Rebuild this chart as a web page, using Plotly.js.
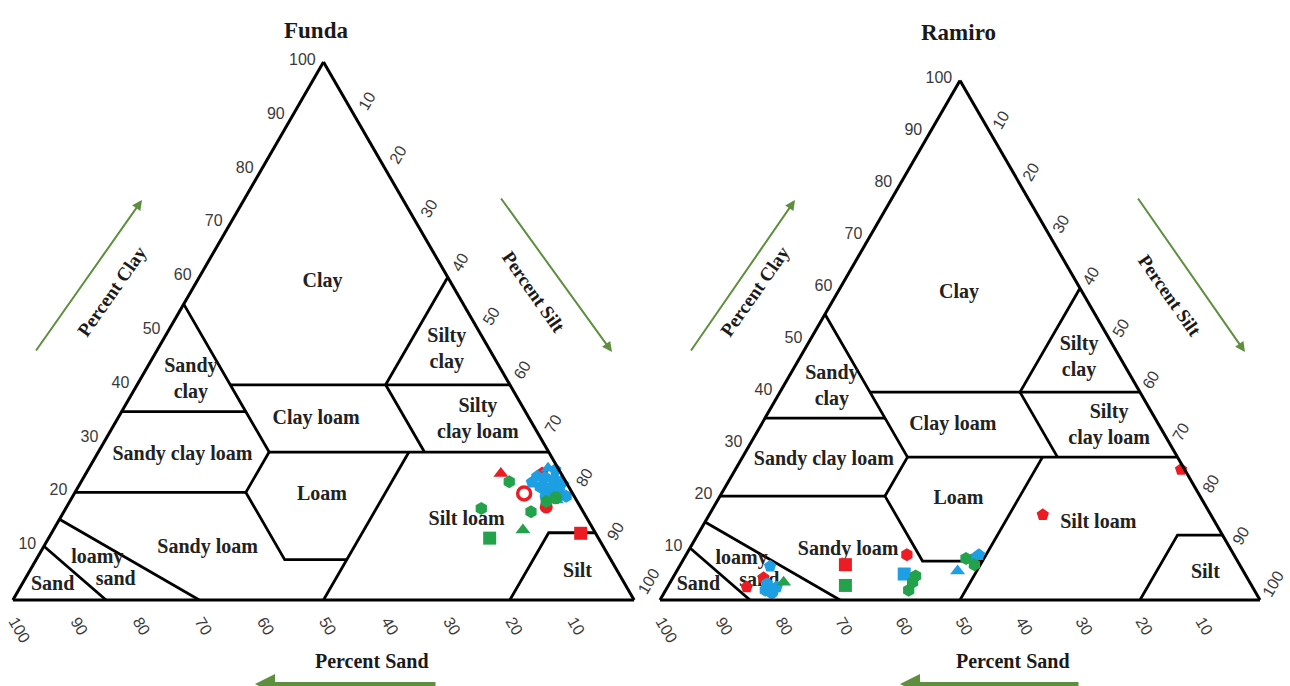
<!DOCTYPE html>
<html><head><meta charset="utf-8">
<script src="https://cdn.plot.ly/plotly-3.0.1.min.js"></script>
<style>html,body{margin:0;padding:0;background:#fff}#chart{width:1290px;height:686px}</style>
</head><body><div id="chart"></div>
<script>
// ---------- data ----------
const tickValues = [10, 20, 30, 40, 50, 60, 70, 80, 90, 100];

// USDA texture-class boundaries (clay, sand, silt); null = break
const boundaryClay = [55,35,27.5,null, 40,40,null, 40,60,null, 35,35,null, 27.5,27.5,null, 40,27.5,null, 27.5,20,7.5,7.5,null, 20,20,null, 27.5,0,null, 15,0,null, 10,0,null, 0,12.5,12.5];
const boundarySand = [45,45,45,null, 45,0,null, 20,0,null, 65,45,null, 45,0,null, 20,20,null, 45,52.5,52.5,42.5,null, 80,52.5,null, 22.5,50,null, 85,70,null, 90,85,null, 20,7.5,0];
const boundarySilt = [0,20,27.5,null, 15,60,null, 40,40,null, 0,20,null, 27.5,72.5,null, 40,52.5,null, 27.5,27.5,40,50,null, 0,27.5,null, 50,50,null, 0,30,null, 0,15,null, 80,80,87.5];

// texture-class labels
const classNames = ['Clay', 'Silty<br>clay', 'Sandy<br>clay', 'Clay loam', 'Silty<br>clay loam', 'Sandy clay loam', 'Loam', 'Silt loam', 'Sandy loam', 'loamy', 'sand', 'Sand', 'Silt'];
const classClay = [59.1, 46.5, 40.9, 33.6, 33.5, 27.0, 19.5, 14.9, 9.7, 7.8, 3.7, 2.8, 5.2];
const classSand = [20.6, 6.9, 50.9, 34.4, 8.4, 59.2, 40.5, 19.5, 63.8, 82.5, 81.6, 92.2, 6.5];
const classSilt = [20.3, 46.6, 8.2, 32.0, 58.1, 13.8, 40.0, 65.6, 26.5, 9.7, 14.7, 5.0, 88.3];

// Funda samples
const fundaSeries = ['S1','S1','S1','S1','S1',
  'S2','S2','S2','S2','S2','S2','S2','S2','S2','S2','S2','S2','S2',
  'S3','S3','S3','S3','S3','S3','S3'];
const fundaShape = ['triangle-up','circle-open','pentagon','circle','square',
  'triangle-up','pentagon','pentagon','hexagon','circle','diamond','hexagon','square','pentagon','hexagon','circle','triangle-up','pentagon',
  'hexagon','hexagon','circle','hexagon','hexagon','triangle-up','square'];
const fundaClay = [23.5, 19.8, 23.6, 17.3, 12.4,
  24.5, 24.2, 23.0, 22.7, 22.3, 21.7, 21.0, 20.6, 20.3, 19.3, 19.3, 18.6, 21.9,
  22.0, 18.3, 19.0, 16.4, 17.0, 13.0, 11.5];
const fundaSand = [9.7, 7.8, 3.0, 5.5, 2.4,
  1.6, 0.6, 4.1, 3.0, 1.7, 0.9, 4.6, 3.2, 1.9, 1.3, 4.5, 3.2, 5.5,
  9.1, 5.0, 3.1, 8.4, 16.1, 11.4, 17.5];
const fundaSilt = [66.8, 72.4, 73.4, 77.2, 85.2,
  73.9, 75.2, 72.9, 74.3, 76.0, 77.4, 74.4, 76.2, 77.8, 79.4, 76.2, 78.2, 72.6,
  68.9, 76.7, 77.9, 75.2, 66.9, 75.6, 71.0];

// Ramiro samples
const ramiroSeries = ['S1','S1','S1','S1','S1','S1',
  'S2','S2','S2','S2','S2','S2','S2','S2','S2',
  'S3','S3','S3','S3','S3','S3','S3'];
const ramiroShape = ['pentagon','pentagon','square','hexagon','pentagon','pentagon',
  'pentagon','hexagon','circle','pentagon','hexagon','square','triangle-up','pentagon','hexagon',
  'triangle-up','square','hexagon','hexagon','hexagon','hexagon','hexagon'];
const ramiroClay = [2.5, 4.3, 6.8, 8.7, 16.4, 25.1,
  6.5, 1.9, 1.5, 2.5, 3.1, 5.0, 5.6, 8.7, 7.8,
  3.4, 2.8, 3.4, 1.9, 4.6, 8.0, 6.8];
const ramiroSand = [84.3, 80.6, 65.7, 54.5, 28.0, 0.6,
  78.4, 81.5, 80.6, 79.3, 80.6, 56.8, 47.6, 42.5, 44.0,
  77.7, 67.7, 56.2, 57.6, 55.1, 45.0, 44.2];
const ramiroSilt = [13.2, 15.1, 27.5, 36.8, 55.6, 74.3,
  15.1, 16.6, 17.9, 18.2, 16.3, 38.2, 46.8, 48.8, 48.2,
  18.9, 29.5, 40.4, 40.5, 40.3, 47.0, 49.0];

// ---------- style ----------
const seriesColor = {S1: '#ec1c24', S2: '#1e9ee3', S3: '#23a24b'};
const seriesOrder = ['S1', 'S2', 'S3'];
const serif = 'Liberation Serif, Times New Roman, serif';
const sans = 'Liberation Sans, Arial, sans-serif';
const arrowGreen = '#5e8f3e';

function classTraces(subplot) {
  return [
    {type: 'scatterternary', subplot, mode: 'lines', a: boundaryClay, b: boundarySand, c: boundarySilt,
     line: {color: '#000', width: 2.8}, hoverinfo: 'skip', showlegend: false, cliponaxis: false},
    {type: 'scatterternary', subplot, mode: 'text', a: classClay, b: classSand, c: classSilt,
     text: classNames, textposition: 'middle center',
     textfont: {family: serif, size: 20, color: '#222', weight: 'bold'},
     hoverinfo: 'skip', showlegend: false, cliponaxis: false}
  ];
}

function sampleTraces(subplot, series, shape, clay, sand, silt) {
  return seriesOrder.map(s => {
    const idx = series.map((v, i) => v === s ? i : -1).filter(i => i >= 0);
    return {
      type: 'scatterternary', subplot, mode: 'markers', name: s,
      a: idx.map(i => clay[i]), b: idx.map(i => sand[i]), c: idx.map(i => silt[i]),
      marker: {
        symbol: idx.map(i => shape[i]), size: 13, color: seriesColor[s],
        line: {width: idx.map(i => shape[i] === 'circle-open' ? 3.5 : 0), color: seriesColor[s]}
      },
      showlegend: false, cliponaxis: false
    };
  });
}

const data = [].concat(
  classTraces('ternary'),
  sampleTraces('ternary', fundaSeries, fundaShape, fundaClay, fundaSand, fundaSilt),
  classTraces('ternary2'),
  sampleTraces('ternary2', ramiroSeries, ramiroShape, ramiroClay, ramiroSand, ramiroSilt)
);

function axis(angle, len) {
  return {
    tickvals: tickValues, ticktext: tickValues.map(String), tickangle: angle,
    showgrid: false, ticks: 'outside', ticklen: len, tickcolor: 'rgba(0,0,0,0)',
    linecolor: '#000', linewidth: 3,
    tickfont: {family: sans, size: 16, color: '#3a3a3a'}, title: {text: ''}
  };
}

function ternaryLayout(x0, x1, yTop, cLen) {
  return {
    sum: 100, bgcolor: 'rgba(0,0,0,0)',
    domain: {x: [x0 / 1290, x1 / 1290], y: [1 - 600 / 686, 1 - yTop / 686]},
    aaxis: axis(0, 4), baxis: axis(60, 4), caxis: axis(-60, cLen)
  };
}

const W = 1290, H = 686;
function px(x) { return x / W; }
function py(y) { return 1 - y / H; }

function textAnn(text, x, y, size, angle) {
  return {text: '<b>' + text + '</b>', x: px(x), y: py(y), xref: 'paper', yref: 'paper',
    showarrow: false, textangle: angle, font: {family: serif, size, color: '#1a1a1a'},
    xanchor: 'center', yanchor: 'middle'};
}
function arrowAnn(hx, hy, tx, ty, width) {
  return {text: '', x: px(hx), y: py(hy), xref: 'paper', yref: 'paper',
    showarrow: true, ax: tx - hx, ay: ty - hy, axref: 'pixel', ayref: 'pixel',
    arrowhead: 2, arrowsize: 1, arrowwidth: width, arrowcolor: arrowGreen, standoff: 0, startstandoff: 0};
}

const annotations = [
  textAnn('Funda', 316, 30, 23, 0),
  textAnn('Ramiro', 958, 33, 23, 0),
  textAnn('Percent Clay', 112, 292, 19, -55),
  textAnn('Percent Silt', 533, 292, 19, 55),
  textAnn('Percent Sand', 372, 661, 20, 0),
  textAnn('Percent Clay', 755, 292, 19, -55),
  textAnn('Percent Silt', 1170, 295, 19, 55),
  textAnn('Percent Sand', 1013, 661, 20, 0),
  arrowAnn(142, 200, 35, 352, 2),
  arrowAnn(612, 352, 500, 197, 2),
  arrowAnn(255, 684, 437, 684, 4),
  arrowAnn(795, 200, 690, 352, 2),
  arrowAnn(1245, 352, 1137, 197, 2),
  arrowAnn(900, 684, 1080, 684, 4)
];

const layout = {
  width: W, height: H, margin: {l: 0, r: 0, t: 0, b: 0},
  paper_bgcolor: '#fff', plot_bgcolor: '#fff', showlegend: false,
  ternary: ternaryLayout(12, 635, 62, 4),
  ternary2: ternaryLayout(660, 1260, 80.4, 1),
  annotations
};

Plotly.newPlot('chart', data, layout, {displayModeBar: false, staticPlot: true});
</script>
</body></html>
